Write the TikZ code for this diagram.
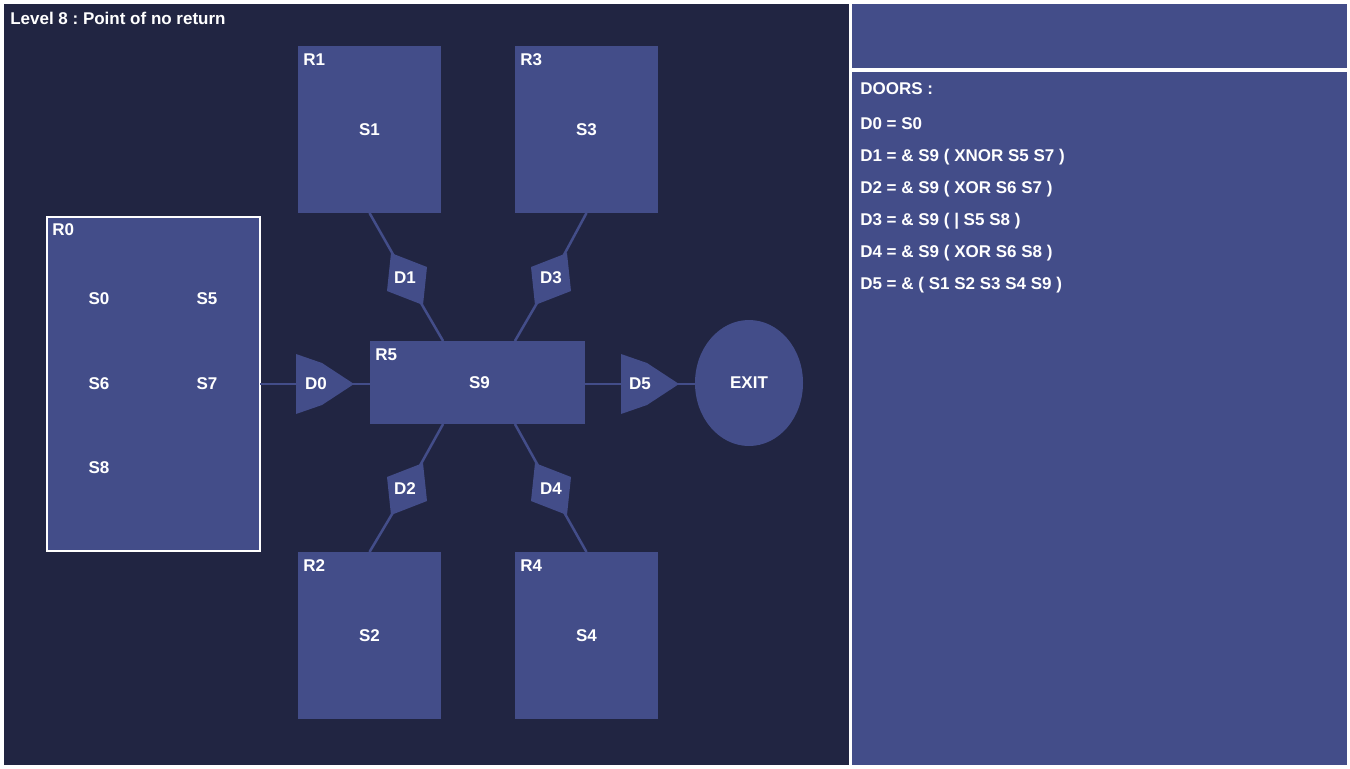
\documentclass[tikz,border=0pt]{standalone}
\usepackage{fontspec}
\setmainfont{Liberation Sans}
\usetikzlibrary{shapes,positioning,calc}

\definecolor{mapbg}{RGB}{33,37,66}
\definecolor{roomfill}{RGB}{67,77,137}
\newcommand{\px}{0.75pt}
\frenchspacing

\tikzset{
  txt/.style={text=white, font=\bfseries\fontsize{12.75pt}{15pt}\selectfont, inner sep=0pt},
  room/.style={txt, fill=roomfill, outer sep=0pt},
  door/.style={fill=roomfill},
  link/.style={draw=roomfill, line width=2.5*\px},
  rname/.style={txt, anchor=base west},
}

\begin{document}
\begin{tikzpicture}[x=\px, y=-\px]
\useasboundingbox (0,0) rectangle (1350,768);
\fill[white] (0,0) rectangle (1350,768);
\fill[mapbg] (4,4) rectangle (849,765);
\fill[roomfill] (852,4) rectangle (1347,68);
\fill[roomfill] (852,72) rectangle (1347,765);

% rooms
\node[room, draw=white, line width=2*\px, minimum width=213*\px, minimum height=334*\px] (r0) at (153.5,383.5) {};
\node[room, minimum width=143*\px, minimum height=167*\px] (r1) at (369.5,129.5) {S1};
\node[room, minimum width=143*\px, minimum height=167*\px] (r2) at (369.5,635.5) {S2};
\node[room, minimum width=143*\px, minimum height=167*\px] (r3) at (586.5,129.5) {S3};
\node[room, minimum width=143*\px, minimum height=167*\px] (r4) at (586.5,635.5) {S4};
\node[room, minimum width=215*\px, minimum height=83*\px] (r5) at (477.5,382.5) {\hspace{3pt}S9};
\node[room, ellipse, minimum width=108*\px, minimum height=126*\px] (exit) at (749,383) {EXIT};

\node[txt] (s0) at (99,299) {S0};
\node[txt] (s5) at (207,299) {S5};
\node[txt] (s6) at (99,384) {S6};
\node[txt] (s7) at (207,384) {S7};
\node[txt] (s8) at (99,468) {S8};

\node[rname] at ($(r0.north west)+(5,19)$) {R0};
\node[rname] at ($(r1.north west)+(5,19)$) {R1};
\node[rname] at ($(r2.north west)+(5,19)$) {R2};
\node[rname] at ($(r3.north west)+(5,19)$) {R3};
\node[rname] at ($(r4.north west)+(5,19)$) {R4};
\node[rname] at ($(r5.north west)+(5,19)$) {R5};

% door spots
\coordinate (d0) at (325,384);
\coordinate (d5) at (650,384);
\coordinate (d1) at (407,279);
\coordinate (d3) at (551,279);
\coordinate (d2) at (407,489);
\coordinate (d4) at (551,489);

\coordinate (r5_nw) at ($(r5.north west)!0.34!(r5.north east)$);
\coordinate (r5_ne) at ($(r5.north west)!0.674!(r5.north east)$);
\coordinate (r5_sw) at ($(r5.south west)!0.34!(r5.south east)$);
\coordinate (r5_se) at ($(r5.south west)!0.674!(r5.south east)$);

\draw[link] (r0.east |- d0) -- (d0) -- (d0 -| r5.west);
\draw[link] (r5.east |- d5) -- (d5) -- (d5 -| exit.west);
\draw[link] (r1.south) -- (d1) -- (r5_nw);
\draw[link] (r3.south) -- (d3) -- (r5_ne);
\draw[link] (r2.north) -- (d2) -- (r5_sw);
\draw[link] (r4.north) -- (d4) -- (r5_se);

\fill[door, shift={(d0)}] (-29,-30) -- (-3,-21) -- (29,0) -- (-3,21) -- (-29,30) -- cycle;
\fill[door, shift={(d5)}] (-29,-30) -- (-3,-21) -- (29,0) -- (-3,21) -- (-29,30) -- cycle;
\fill[door, shift={(d1)}] (-16,-26) -- (20,-12) -- (16,26) -- (-20,12) -- cycle;
\fill[door, shift={(d3)}, xscale=-1] (-16,-26) -- (20,-12) -- (16,26) -- (-20,12) -- cycle;
\fill[door, shift={(d2)}, yscale=-1] (-16,-26) -- (20,-12) -- (16,26) -- (-20,12) -- cycle;
\fill[door, shift={(d4)}, scale=-1] (-16,-26) -- (20,-12) -- (16,26) -- (-20,12) -- cycle;

\node[txt] at ($(d0)+(-9,0)$) {D0};
\node[txt] at ($(d5)+(-10,0)$) {D5};
\node[txt] at ($(d1)+(-2,-1)$) {D1};
\node[txt] at ($(d3)+(0,-1)$) {D3};
\node[txt] at ($(d2)+(-2,0)$) {D2};
\node[txt] at ($(d4)+(0,0)$) {D4};

% texts
\node[rname] (title) at (10,24) {Level 8 : Point of no return};
\node[rname] (doors) at (860,94) {DOORS :};
\node[rname] at (860,129) {D0 = S0};
\node[rname] at (860,161) {D1 = \& S9 ( XNOR S5 S7 )};
\node[rname] at (860,193) {D2 = \& S9 ( XOR S6 S7 )};
\node[rname] at (860,225) {D3 = \& S9 ( | S5 S8 )};
\node[rname] at (860,257) {D4 = \& S9 ( XOR S6 S8 )};
\node[rname] at (860,289) {D5 = \& ( S1 S2 S3 S4 S9 )};
\end{tikzpicture}
\end{document}
